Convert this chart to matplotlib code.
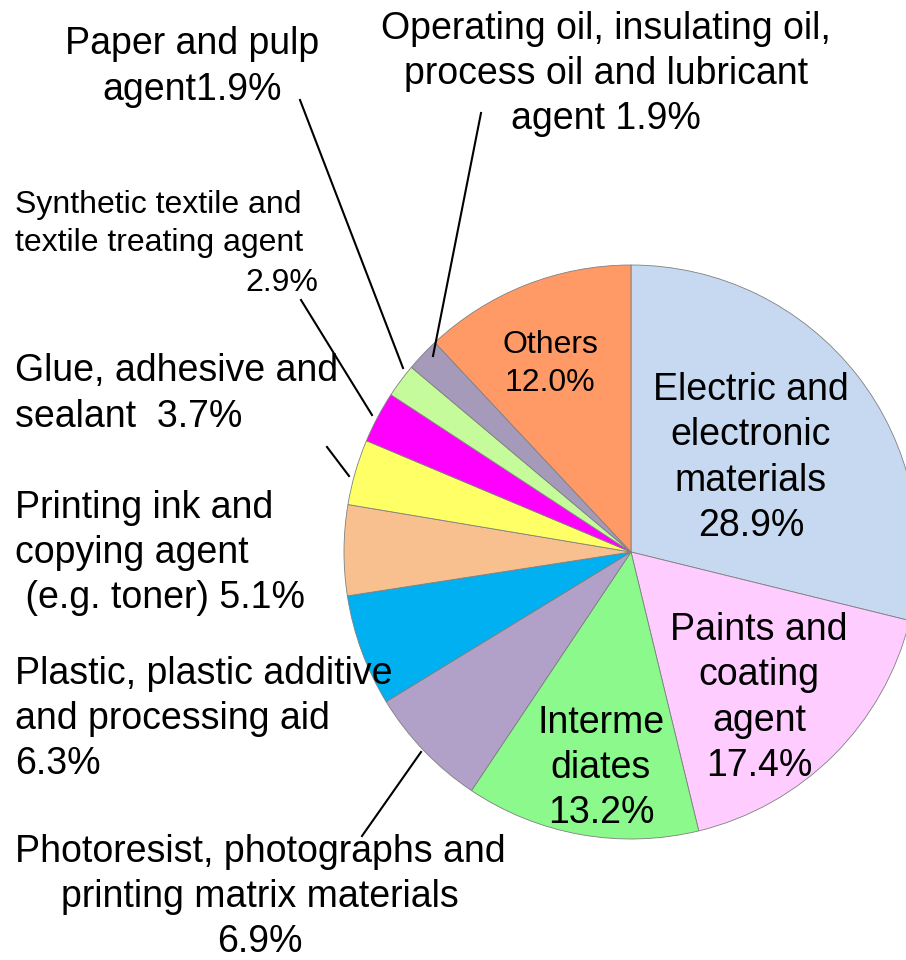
import matplotlib.pyplot as plt

plt.rcParams['font.family'] = ['Liberation Sans', 'DejaVu Sans']

labels = ['Electric and electronic materials', 'Paints and coating agent', 'Intermediates',
          'Photoresist, photographs and printing matrix materials',
          'Plastic, plastic additive and processing aid',
          'Printing ink and copying agent (e.g. toner)', 'Glue, adhesive and sealant',
          'Synthetic textile and textile treating agent', 'Paper and pulp agent',
          'Operating oil, insulating oil, process oil and lubricant agent', 'Others']
shares = [28.9, 17.4, 13.2, 6.9, 6.3, 5.1, 3.7, 2.9, 1.9, 1.9, 12.0]
colors = ['#C6D9F0', '#FFCCFF', '#8BF98B', '#B1A0C7', '#00B0F0', '#F9C08F',
          '#FFFF66', '#FF00FF', '#C6FB9B', '#A69ABB', '#FF9966']

W, H = 906, 960
fig = plt.figure(figsize=(W / 100, H / 100), dpi=100)
ax = fig.add_axes([0, 0, 1, 1])

ax.pie(shares, colors=colors, startangle=90, counterclock=False,
       center=(631, H - 552), radius=287,
       wedgeprops=dict(edgecolor='#808080', linewidth=0.6))
ax.set_xlim(0, W)
ax.set_ylim(0, H)
ax.set_aspect('equal')
ax.axis('off')

def y(p):
    return H - p

big = 27
small = 23
ls = 1.33

def label(x, yp, s, ha='center', size=big):
    ax.text(x, y(yp), s, ha=ha, va='center', fontsize=size, linespacing=ls,
            multialignment=ha)

# labels inside the pie
label(751, 458, 'Electric and\nelectronic\nmaterials\n28.9%')
label(759, 698, 'Paints and\ncoating\nagent\n17.4%')
label(601, 768, 'Interme\ndiates\n13.2%')
label(550, 364, 'Others\n12.0%', size=small)

# labels outside
label(192, 67, 'Paper and pulp\nagent1.9%')
label(606, 74, 'Operating oil, insulating oil,\nprocess oil and lubricant\nagent 1.9%')
label(15, 224, 'Synthetic textile and\ntextile treating agent', ha='left', size=small)
ax.text(318, y(283), '2.9%', ha='right', va='center', fontsize=small)
label(15, 394, 'Glue, adhesive and\nsealant  3.7%', ha='left')
label(15, 553, 'Printing ink and\ncopying agent\n (e.g. toner) 5.1%', ha='left')
label(15, 719, 'Plastic, plastic additive\nand processing aid\n6.3%', ha='left')
label(260, 897, 'Photoresist, photographs and\nprinting matrix materials\n6.9%')

# leader lines
leaders = [((300, 100), (403, 368)),
           ((481, 113), (433, 356)),
           ((301, 300), (372, 415)),
           ((327, 447), (349, 476)),
           ((362, 836), (421, 752))]
for (x0, y0), (x1, y1) in leaders:
    ax.plot([x0, x1], [y(y0), y(y1)], color='black', linewidth=1.5)

fig.savefig('out.png', dpi=100)
